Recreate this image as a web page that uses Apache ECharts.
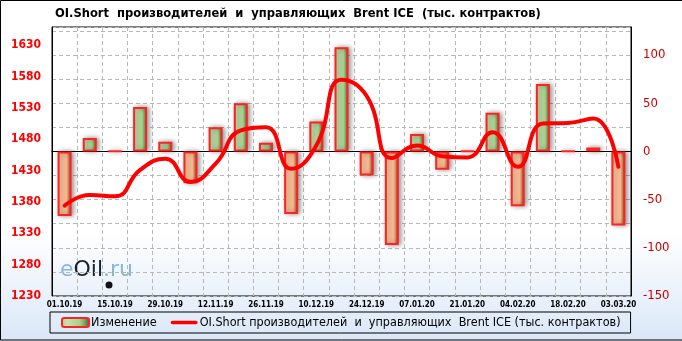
<!DOCTYPE html>
<html>
<head>
<meta charset="utf-8">
<script src="https://cdn.jsdelivr.net/npm/echarts@6/dist/echarts.min.js"></script>
<style>
html,body{margin:0;padding:0;background:#fff;}
#chart{width:682px;height:341px;}
</style>
</head>
<body>
<div id="chart"></div>
<script>
const categories = ['01.10.19','08.10.19','15.10.19','22.10.19','29.10.19','05.11.19','12.11.19','19.11.19','26.11.19','03.12.19','10.12.19','17.12.19','24.12.19','31.12.19','07.01.20','14.01.20','21.01.20','28.01.20','04.02.20','11.02.20','18.02.20','25.02.20','03.03.20'];
const changes = [-67, 14, 0.5, 46, 10, -33, 25, 50, 9, -65, 31, 108, -25, -97, 18, -19, 0.5, 40, -57, 70, 0.5, 4, -77];
const oiShort = [1374, 1391, 1389, 1431, 1449, 1412, 1441, 1494, 1499, 1433, 1470, 1575, 1549, 1450, 1470, 1453, 1451, 1491, 1436, 1505, 1506, 1513, 1436];
const leftTicks = [1230, 1280, 1330, 1380, 1430, 1480, 1530, 1580, 1630];
const rightTicks = [-150, -100, -50, 0, 50, 100];

const titleText = 'OI.Short  производителей  и  управляющих  Brent ICE  (тыс. контрактов)';
const barName = 'Изменение';
const lineName = 'OI.Short производителей  и  управляющих  Brent ICE (тыс. контрактов)';
const FONT = '"DejaVu Sans Condensed", "DejaVu Sans", sans-serif';

const greenFill = new echarts.graphic.LinearGradient(0,0,1,0,[
  {offset:0, color:'#a6d08b'},{offset:0.2, color:'#c4e4ad'},{offset:0.65, color:'#a8d18d'},
  {offset:0.8, color:'#7fa866'},{offset:1, color:'#3c5a2c'}]);
const orangeFill = new echarts.graphic.LinearGradient(0,0,1,0,[
  {offset:0, color:'#f3ae80'},{offset:0.2, color:'#ffcaa5'},{offset:0.65, color:'#f8b88b'},
  {offset:0.8, color:'#c9845a'},{offset:1, color:'#6a381e'}]);

const barData = changes.map(v => v < 0 ? {value:v, itemStyle:{color:orangeFill}} : v);

const chart = echarts.init(document.getElementById('chart'), null, {renderer:'canvas'});
chart.setOption({
  animation:false,
  backgroundColor: new echarts.graphic.LinearGradient(0,0,0,1,[
    {offset:0, color:'#ffffff'},{offset:0.68, color:'#ffffff'},{offset:1, color:'#dae7f8'}]),
  title:{
    text:titleText, left:55, top:7, padding:0,
    textStyle:{fontFamily:FONT, fontSize:12.8, fontWeight:'bold', color:'#000'}
  },
  grid:{left:52, right:51, top:27, bottom:45, show:true, borderColor:'#000', borderWidth:1, backgroundColor:'transparent'},
  legend:{
    left:50, top:312, padding:[4,10,4,11], itemGap:14, itemWidth:27, itemHeight:9,
    borderColor:'#000', borderWidth:1, borderRadius:0,
    textStyle:{fontFamily:FONT, fontSize:12.5, color:'#000', padding:[0,0,0,-3]},
    data:[
      {name:barName},
      {name:lineName, icon:'path://M2,0H28A2,2 0 0 1 28,4H2A2,2 0 0 1 2,0Z', itemStyle:{color:'#ff0000'}}
    ]
  },
  xAxis:{
    type:'category', data:categories, boundaryGap:true,
    axisLine:{show:true, lineStyle:{color:'#000', width:1}},
    axisTick:{show:false},
    axisLabel:{interval:1, margin:5, fontFamily:FONT, fontSize:8, fontWeight:'bold', color:'#000'},
    splitLine:{show:true, interval:0, lineStyle:{color:'#b8b8b8', type:[4,3], width:1}}
  },
  yAxis:[
    {
      type:'value', position:'left', min:1230, max:1659, interval:10,
      axisLine:{show:true, lineStyle:{color:'#000'}}, axisTick:{show:false}, splitLine:{show:false},
      axisLabel:{margin:11, fontFamily:FONT, fontSize:12, fontWeight:'bold', color:'#ff0000',
        formatter: v => leftTicks.indexOf(Math.round(v)) >= 0 ? String(Math.round(v)) : ''}
    },
    {
      type:'value', position:'right', min:-150, max:129, interval:25,
      axisLine:{show:true, lineStyle:{color:'#000'}}, axisTick:{show:false},
      splitLine:{show:true, lineStyle:{color:'#b8b8b8', type:[4,3], width:1}},
      axisLabel:{margin:12, fontFamily:FONT, fontSize:13, color:'#cc0000',
        formatter: v => rightTicks.indexOf(Math.round(v)) >= 0 ? String(Math.round(v)) : ''}
    }
  ],
  series:[
    {
      name:barName, type:'bar', yAxisIndex:1, data:barData, barWidth:14,
      itemStyle:{color:greenFill, borderColor:'#ff2222', borderWidth:2,
        shadowColor:'rgba(0,0,0,0.4)', shadowBlur:5, shadowOffsetX:2, shadowOffsetY:0},
      z:2
    },
    {
      name:lineName, type:'line', yAxisIndex:0, data:oiShort, smooth:0.5,
      symbol:'none', lineStyle:{color:'#ff0000', width:4, cap:'round'}, itemStyle:{color:'#ff0000'},
      z:3
    }
  ],
  graphic:[
    {type:'text', left:60, top:259, z:0, silent:true,
      style:{text:'{a|e}{b|Oil}{a|.ru}', rich:{
        a:{fontFamily:'"DejaVu Sans", sans-serif', fontSize:22, fill:'#86b6e2'},
        b:{fontFamily:'"DejaVu Sans", sans-serif', fontSize:22, fill:'#16222e'}}}},
    {type:'circle', shape:{cx:109, cy:285, r:3.5}, style:{fill:'#111'}, z:0, silent:true},
    {type:'rect', shape:{x:0.5, y:0.5, width:684, height:339.5}, style:{fill:'none', stroke:'#000', lineWidth:1}, z:100, silent:true}
  ]
});
</script>
</body>
</html>
